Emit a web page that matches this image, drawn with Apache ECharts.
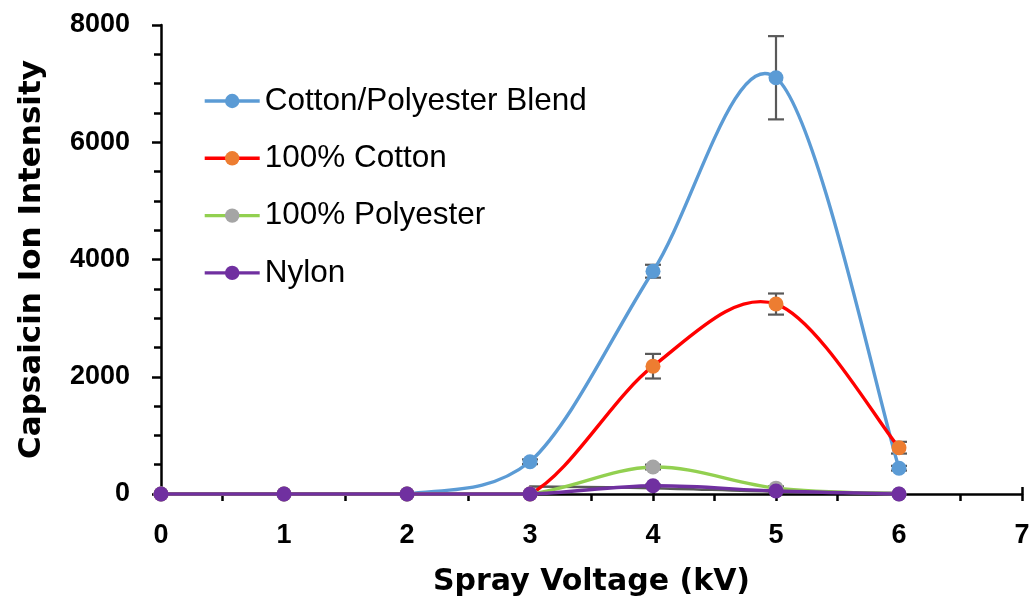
<!DOCTYPE html>
<html>
<head>
<meta charset="utf-8">
<script src="https://cdn.jsdelivr.net/npm/echarts@6/dist/echarts.min.js"></script>
<style>
  html, body { margin: 0; padding: 0; background: #fff; }
  #chart { width: 1033px; height: 602px; }
</style>
</head>
<body>
<div id="chart"></div>
<script>
// Spray voltage (kV) and capsaicin ion intensity per fabric
const voltages = [0, 1, 2, 3, 4, 5, 6];
const seriesNames = ['Cotton/Polyester Blend', '100% Cotton', '100% Polyester', 'Nylon'];
const blend = [0, 0, 0, 550, 3800, 7100, 440];
const cotton = [0, 0, 0, 0, 2180, 3240, 790];
const polyester = [0, 0, 0, 0, 460, 100, 0];
const nylon = [0, 0, 0, 0, 140, 50, 0];
// Standard deviations (error bars)
const blendErr = [0, 0, 0, 40, 110, 710, 40];
const cottonErr = [0, 0, 0, 0, 210, 180, 100];
const polyesterErr = [0, 0, 0, 0, 40, 30, 0];
const nylonErr = [0, 0, 0, 0, 20, 10, 0];
// Faint trace near the baseline
const baselineX = [3, 4, 5, 6];
const baseline = [130, 100, 40, 20];
const xTicks = ['0', '1', '2', '3', '4', '5', '6', '7'];
const yTicks = ['0', '2000', '4000', '6000', '8000'];

const lineColors = ['#5b9bd5', '#ff0000', '#92d050', '#7030a0'];
const markerColors = ['#5b9bd5', '#ed7d31', '#a5a5a5', '#7030a0'];
const values = [blend, cotton, polyester, nylon];
const errors = [blendErr, cottonErr, polyesterErr, nylonErr];

const pairs = (xs, ys) => xs.map((x, i) => [x, ys[i]]);

// One item per curve segment: [prev, start, end, next] points (x, y each)
function segments(xs, ys) {
  const out = [];
  for (let i = 0; i < xs.length - 1; i++) {
    const p = Math.max(i - 1, 0), n = Math.min(i + 2, xs.length - 1);
    out.push([xs[p], ys[p], xs[i], ys[i], xs[i + 1], ys[i + 1], xs[n], ys[n]]);
  }
  return out;
}

// Cardinal-spline segment as a cubic bezier, built in pixel space;
// control points are kept at or above zero intensity.
function splineSegment(color, width) {
  return function (params, api) {
    const p0 = api.coord([api.value(0), api.value(1)]);
    const p1 = api.coord([api.value(2), api.value(3)]);
    const p2 = api.coord([api.value(4), api.value(5)]);
    const p3 = api.coord([api.value(6), api.value(7)]);
    const zeroY = api.coord([0, 0])[1];
    const k = 1 / 6;
    return {
      type: 'bezierCurve',
      shape: {
        x1: p1[0], y1: p1[1], x2: p2[0], y2: p2[1],
        cpx1: p1[0] + (p2[0] - p0[0]) * k,
        cpy1: Math.min(p1[1] + (p2[1] - p0[1]) * k, zeroY),
        cpx2: p2[0] - (p3[0] - p1[0]) * k,
        cpy2: Math.min(p2[1] - (p3[1] - p1[1]) * k, zeroY)
      },
      style: { stroke: color, lineWidth: width, fill: null, lineCap: 'round' }
    };
  };
}

const errData = [];
values.forEach((vals, s) => {
  vals.forEach((v, i) => {
    if (errors[s][i] > 0) errData.push([voltages[i], v - errors[s][i], v + errors[s][i]]);
  });
});

const fabricSeries = [];
seriesNames.forEach((name, i) => {
  fabricSeries.push({
    name: name + ' curve',
    type: 'custom',
    data: segments(voltages, values[i]),
    encode: { x: [0, 2, 4, 6], y: [1, 3, 5, 7] },
    renderItem: splineSegment(lineColors[i], 3.4),
    clip: false,
    silent: true,
    z: 3 + i * 2
  });
  fabricSeries.push({
    name: name,
    type: 'line',
    data: pairs(voltages, values[i]),
    symbol: 'circle',
    symbolSize: 15,
    showSymbol: true,
    lineStyle: { color: lineColors[i], width: 3.4, opacity: 0 },
    itemStyle: { color: markerColors[i] },
    z: 4 + i * 2
  });
});

const tickFont = { fontFamily: 'Liberation Sans, Arial, sans-serif', fontSize: 27, fontWeight: 'bold', color: '#000' };
const titleFont = { fontFamily: 'DejaVu Sans, sans-serif', fontSize: 30, fontWeight: 'bold', color: '#000' };

const chart = echarts.init(document.getElementById('chart'));
chart.setOption({
  animation: false,
  grid: { left: 161, right: 11, top: 25, bottom: 108, containLabel: false, outerBoundsMode: 'none' },
  legend: {
    data: seriesNames.map((name, i) => ({
      name: name,
      lineStyle: { color: lineColors[i], width: 3.4, opacity: 1 }
    })),
    orient: 'vertical',
    left: 203,
    top: 85,
    padding: 0,
    itemWidth: 55,
    itemHeight: 18,
    itemGap: 25.3,
    textStyle: { fontFamily: 'Liberation Sans, Arial, sans-serif', fontSize: 31.5, color: '#000' }
  },
  xAxis: [{
    type: 'value',
    min: 0, max: 7, interval: 1,
    name: 'Spray Voltage (kV)',
    nameLocation: 'middle',
    nameGap: 73,
    nameTextStyle: titleFont,
    axisLine: { onZero: false, lineStyle: { color: '#000', width: 2.5 } },
    axisTick: { show: true, inside: false, length: 7, lineStyle: { color: '#000', width: 2.5 } },
    minorTick: { show: true, splitNumber: 2, length: 7, lineStyle: { color: '#000', width: 2.5 } },
    axisLabel: Object.assign({ margin: 28, formatter: v => xTicks[Math.round(v)] }, tickFont),
    splitLine: { show: false }
  }, {
    type: 'value',
    position: 'bottom',
    min: 0, max: 7, interval: 1,
    axisLine: { show: false },
    axisTick: { show: true, inside: true, length: 7, lineStyle: { color: '#000', width: 2.5 } },
    axisLabel: { show: false },
    splitLine: { show: false }
  }],
  yAxis: {
    type: 'value',
    min: 0, max: 8000, interval: 2000,
    name: 'Capsaicin Ion Intensity',
    nameLocation: 'middle',
    nameGap: 114,
    nameTextStyle: Object.assign({}, titleFont, { fontSize: 31 }),
    axisLine: { show: true, lineStyle: { color: '#000', width: 2.5 } },
    axisTick: { show: true, length: 9, lineStyle: { color: '#000', width: 2.5 } },
    minorTick: { show: true, splitNumber: 4, length: 7, lineStyle: { color: '#000', width: 2.5 } },
    axisLabel: Object.assign({ margin: 31, formatter: v => yTicks[Math.round(v / 2000)] }, tickFont),
    splitLine: { show: false }
  },
  series: [{
    name: 'baseline',
    type: 'custom',
    data: segments(baselineX, baseline),
    encode: { x: [0, 2, 4, 6], y: [1, 3, 5, 7] },
    renderItem: splineSegment('#595959', 2.5),
    clip: false,
    silent: true,
    z: 2
  }, {
    name: 'error',
    type: 'custom',
    data: errData,
    encode: { x: 0, y: [1, 2] },
    z: 2,
    silent: true,
    renderItem: function (params, api) {
      const x = api.value(0);
      const lo = api.coord([x, api.value(1)]);
      const hi = api.coord([x, api.value(2)]);
      const cap = 8;
      const style = { stroke: '#595959', lineWidth: 2.2 };
      return {
        type: 'group',
        children: [
          { type: 'line', shape: { x1: lo[0], y1: lo[1], x2: hi[0], y2: hi[1] }, style: style },
          { type: 'line', shape: { x1: lo[0] - cap, y1: lo[1], x2: lo[0] + cap, y2: lo[1] }, style: style },
          { type: 'line', shape: { x1: hi[0] - cap, y1: hi[1], x2: hi[0] + cap, y2: hi[1] }, style: style }
        ]
      };
    }
  }].concat(fabricSeries)
});
</script>
</body>
</html>
